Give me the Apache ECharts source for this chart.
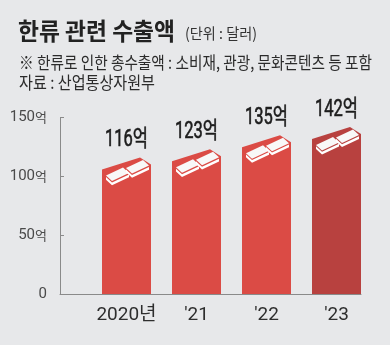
<!DOCTYPE html>
<html>
<head>
<meta charset="utf-8">
<script src="https://cdn.jsdelivr.net/npm/echarts@6/dist/echarts.min.js"></script>
<style>
  html, body { margin: 0; padding: 0; background: #E7E8EA; }
  #chart { width: 390px; height: 345px; }
</style>
</head>
<body>
<div id="chart"></div>
<script>
// ---- data ----
const categories = ['2020년', "'21", "'22", "'23"];
const exportValues = [116, 123, 135, 142];          // 억 달러
const yMin = 0, yMax = 150, yInterval = 50;
const valueUnit = '억';
const titleText = '한류 관련 수출액';
const unitText = '(단위 : 달러)';
const noteText = '※ 한류로 인한 총수출액 : 소비재, 관광, 문화콘텐츠 등 포함';
const sourceText = '자료 : 산업통상자원부';

// ---- helpers ----
const cv = document.createElement('canvas').getContext('2d');
function fitScale(text, font, target) {
  cv.font = font;
  const w = cv.measureText(text).width;
  return w > 0 ? target / w : 1;
}
const KR = '"Noto Sans CJK KR", "Noto Sans", sans-serif';
const titleFont = 'bold 24px ' + KR;
const unitFont = '15px ' + KR;
const lineFont = '17px ' + KR;
const valueFamily = 'Roboto, "Noto Sans CJK KR", sans-serif';
const valueFont = '23px ' + valueFamily;
const valueScale = fitScale('116억', valueFont, 43);

const barColor = '#DB4B45';
const lastBarColor = '#B8413F';

function renderItem(params, api) {
  const idx = params.dataIndex;
  const v = api.value(1);
  const top = api.coord([api.value(0), v]);
  const base = api.coord([api.value(0), 0]);
  const bw = api.size([1, 0])[0] * 0.7;
  const k = bw / 49;
  const L = top[0] - bw / 2, R = top[0] + bw / 2, P = top[1], B = base[1];
  const color = idx === exportValues.length - 1 ? lastBarColor : barColor;
  const children = [{
    type: 'polygon',
    shape: { points: [[L, B], [L, P + 12], [L + 38 * k, P], [R, P + 7], [R, B]] },
    style: { fill: color }
  }];
  for (let j = 0; j < 2; j++) {
    const ox = L + (4 + 20 * j) * k, oy = P + 18 - 7.5 * j;
    const A = [ox, oy], Bp = [ox + 17 * k, oy - 8], C = [ox + 23 * k, oy - 2.5], D = [ox + 6 * k, oy + 5.5];
    const t1 = 1.4, t2 = 4.2;
    children.push({
      type: 'polygon',
      shape: { points: [[A[0], A[1] + t1], [D[0], D[1] + t1], [C[0], C[1] + t1], [C[0], C[1] + t2], [D[0], D[1] + t2], [A[0], A[1] + t2]] },
      style: { fill: '#FFFFFF' }
    });
    children.push({
      type: 'polygon',
      shape: { points: [A, Bp, C, D] },
      style: { fill: '#F8F8F8' }
    });
  }
  children.push({
    type: 'text',
    x: top[0], y: P - 17,
    scaleX: valueScale,
    style: {
      text: v + valueUnit,
      font: valueFont,
      fill: '#1c1c1c',
      stroke: '#1c1c1c',
      lineWidth: 0.6,
      align: 'center',
      verticalAlign: 'middle'
    }
  });
  return { type: 'group', children: children };
}

const chart = echarts.init(document.getElementById('chart'), null, { renderer: 'canvas' });
chart.setOption({
  backgroundColor: '#E7E8EA',
  animation: false,
  graphic: [
    { type: 'text', x: 18, y: 31, scaleX: fitScale(titleText, titleFont, 157),
      style: { text: titleText, font: titleFont, fill: '#222', align: 'left', verticalAlign: 'middle' } },
    { type: 'text', x: 185, y: 33, scaleX: fitScale(unitText, unitFont, 72),
      style: { text: unitText, font: unitFont, fill: '#333', align: 'left', verticalAlign: 'middle' } },
    { type: 'text', x: 19, y: 63, scaleX: fitScale(noteText, lineFont, 353),
      style: { text: noteText, font: lineFont, fill: '#2b2b2b', align: 'left', verticalAlign: 'middle' } },
    { type: 'text', x: 19, y: 83, scaleX: fitScale(sourceText, lineFont, 136),
      style: { text: sourceText, font: lineFont, fill: '#2b2b2b', align: 'left', verticalAlign: 'middle' } }
  ],
  grid: [
    { left: 60, right: 29, top: 117.5, bottom: 51 },
    { left: 91.5, right: 18.5, top: 117.5, bottom: 51 }
  ],
  xAxis: [
    { gridIndex: 0, type: 'value', min: 0, max: 1,
      axisLine: { show: true, lineStyle: { color: '#8a8a8a', width: 1 } },
      axisTick: { show: false }, axisLabel: { show: false }, splitLine: { show: false } },
    { gridIndex: 1, type: 'category', data: categories,
      axisLine: { show: false }, axisTick: { show: false }, splitLine: { show: false },
      axisLabel: { interval: 0, margin: 12, fontSize: 19, color: '#2e2e2e',
        fontFamily: 'Roboto, ' + KR } }
  ],
  yAxis: [
    { gridIndex: 0, type: 'value', min: yMin, max: yMax, interval: yInterval,
      axisLine: { show: true, lineStyle: { color: '#8a8a8a', width: 1 } },
      axisTick: { show: true, inside: true, length: 4, lineStyle: { color: '#8a8a8a' } },
      splitLine: { show: false },
      axisLabel: {
        margin: 13,
        formatter: function (v) { return v === 0 ? '{n|0}' : '{n|' + v + '}{u|' + valueUnit + '}'; },
        rich: {
          n: { fontSize: 15, color: '#4a4a4a', fontFamily: 'Roboto, sans-serif' },
          u: { fontSize: 13, color: '#4a4a4a', fontFamily: KR }
        }
      } },
    { gridIndex: 1, type: 'value', min: yMin, max: yMax, interval: yInterval, show: false }
  ],
  series: [{
    type: 'custom',
    xAxisIndex: 1, yAxisIndex: 1,
    renderItem: renderItem,
    data: exportValues.map(function (v, i) { return [i, v]; })
  }]
});
</script>
</body>
</html>
